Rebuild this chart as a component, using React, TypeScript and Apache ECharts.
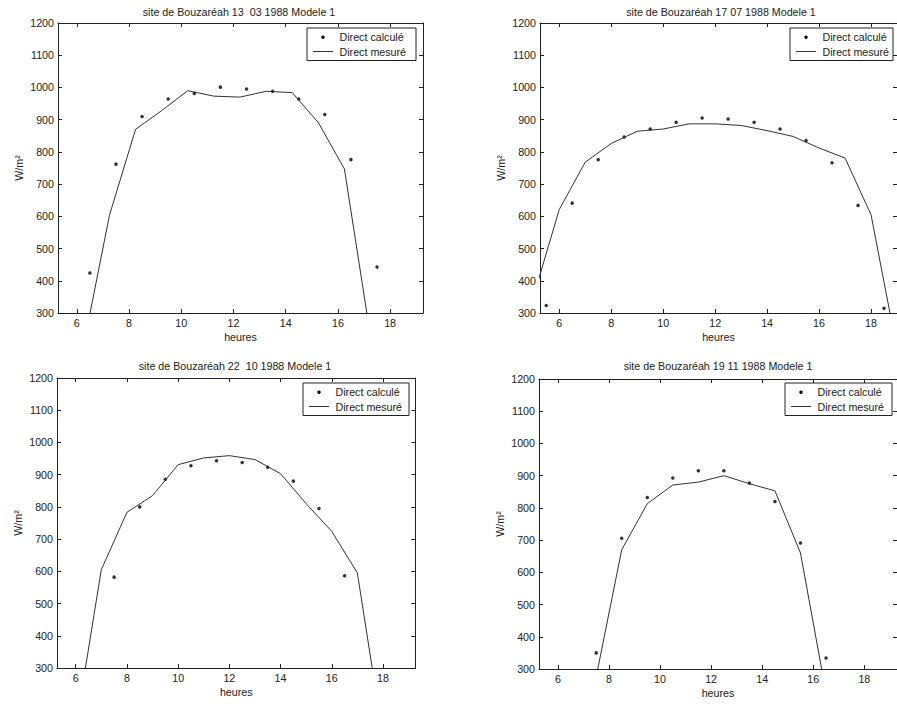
import React, { useEffect, useRef } from "react";
import * as echarts from "echarts";

// ---------- data ----------
const xTickValues = [6, 8, 10, 12, 14, 16, 18];
const nameCalc = "Direct calculé";
const nameMeas = "Direct mesuré";
const xAxisName = "heures";
const yAxisName = "W/m²";

const titles = [
  "site de Bouzaréah 13  03 1988 Modele 1",
  "site de Bouzaréah 17 07 1988 Modele 1",
  "site de Bouzaréah 22  10 1988 Modele 1",
  "site de Bouzaréah 19 11 1988 Modele 1",
];

// 13 03 1988
const hoursMeas1 = [6.25, 7.25, 8.25, 9.25, 10.25, 11.25, 12.25, 13.25, 14.25, 15.25, 16.25, 17.25];
const valuesMeas1 = [195, 603, 870, 928, 990, 973, 970, 988, 984, 891, 747, 227];
const hoursCalc1 = [6.5, 7.5, 8.5, 9.5, 10.5, 11.5, 12.5, 13.5, 14.5, 15.5, 16.5, 17.5];
const valuesCalc1 = [424, 762, 910, 964, 981, 1001, 995, 988, 964, 916, 776, 443];

// 17 07 1988
const hoursMeas2 = [5, 6, 7, 8, 9, 10, 11, 12, 13, 14, 15, 16, 17, 18, 19];
const valuesMeas2 = [348, 621, 768, 826, 864, 871, 887, 887, 882, 866, 848, 812, 781, 605, 187];
const hoursCalc2 = [5.5, 6.5, 7.5, 8.5, 9.5, 10.5, 11.5, 12.5, 13.5, 14.5, 15.5, 16.5, 17.5, 18.5];
const valuesCalc2 = [323, 641, 776, 846, 871, 892, 905, 902, 892, 871, 835, 766, 634, 315];

// 22 10 1988
const hoursMeas3 = [6, 7, 8, 9, 10, 11, 12, 13, 14, 15, 16, 17, 18];
const valuesMeas3 = [113, 605, 783, 835, 931, 952, 959, 947, 903, 810, 724, 595, 86];
const hoursCalc3 = [7.5, 8.5, 9.5, 10.5, 11.5, 12.5, 13.5, 14.5, 15.5, 16.5];
const valuesCalc3 = [582, 800, 886, 928, 943, 938, 923, 880, 795, 586];

// 19 11 1988
const hoursMeas4 = [7.5, 8.5, 9.5, 10.5, 11.5, 12.5, 13.5, 14.5, 15.5, 16.5];
const valuesMeas4 = [276, 670, 813, 871, 880, 900, 875, 853, 660, 226];
const hoursCalc4 = [7.5, 8.5, 9.5, 10.5, 11.5, 12.5, 13.5, 14.5, 15.5, 16.5];
const valuesCalc4 = [350, 706, 832, 893, 915, 915, 877, 820, 691, 334];

const panelsData = [
  { hm: hoursMeas1, vm: valuesMeas1, hc: hoursCalc1, vc: valuesCalc1 },
  { hm: hoursMeas2, vm: valuesMeas2, hc: hoursCalc2, vc: valuesCalc2 },
  { hm: hoursMeas3, vm: valuesMeas3, hc: hoursCalc3, vc: valuesCalc3 },
  { hm: hoursMeas4, vm: valuesMeas4, hc: hoursCalc4, vc: valuesCalc4 },
];

// ---------- layout ----------
const layouts = [
  { left: 58, top: 23, width: 365, height: 290, xMin: 5.28, xMax: 19.26, titleX: 239, titleY: 12, legX: 307, legY: 28, legW: 109 },
  { left: 540, top: 23, width: 359, height: 290, xMin: 5.26, xMax: 19.0, titleX: 721, titleY: 12, legX: 790, legY: 28, legW: 103 },
  { left: 57, top: 378, width: 358.5, height: 290, xMin: 5.27, xMax: 19.27, titleX: 235, titleY: 366, legX: 303, legY: 383, legW: 106 },
  { left: 539, top: 379, width: 360, height: 290, xMin: 5.26, xMax: 19.28, titleX: 718, titleY: 366, legX: 785, legY: 383, legW: 107 },
];

const FONT_FAMILY = '"Liberation Sans", Arial, Helvetica, sans-serif';
const FS = 10.7;
const INK = "#222";

function zip(a: number[], b: number[]) {
  return a.map((v, i) => [v, b[i]]);
}

const plain = (v: number) => String(v);

function buildOption() {
  const grid: any[] = [];
  const xAxis: any[] = [];
  const yAxis: any[] = [];
  const series: any[] = [];
  const graphic: any[] = [];

  layouts.forEach((L, i) => {
    const d = panelsData[i];
    grid.push({ left: L.left, top: L.top, width: L.width, height: L.height, containLabel: false });

    const axisLine = { show: true, onZero: false, lineStyle: { color: INK, width: 1 } };
    const tick = { show: true, inside: true, length: 4, lineStyle: { color: INK, width: 1 } };
    const labelStyle = { color: INK, fontSize: FS, fontFamily: FONT_FAMILY };

    xAxis.push({
      type: "value",
      gridIndex: i,
      position: "bottom",
      min: L.xMin,
      max: L.xMax,
      axisLine,
      axisTick: { ...tick, customValues: xTickValues },
      axisLabel: { ...labelStyle, margin: 4, customValues: xTickValues, formatter: plain },
      splitLine: { show: false },
      name: xAxisName,
      nameLocation: "middle",
      nameGap: 18,
      nameTextStyle: { ...labelStyle },
    });
    xAxis.push({
      type: "value",
      gridIndex: i,
      position: "top",
      min: L.xMin,
      max: L.xMax,
      axisLine,
      axisTick: { ...tick, customValues: xTickValues },
      axisLabel: { show: false, customValues: xTickValues },
      splitLine: { show: false },
    });
    yAxis.push({
      type: "value",
      gridIndex: i,
      position: "left",
      min: 300,
      max: 1200,
      interval: 100,
      axisLine,
      axisTick: tick,
      axisLabel: { ...labelStyle, margin: 4, formatter: plain },
      splitLine: { show: false },
      name: yAxisName,
      nameLocation: "middle",
      nameGap: 34,
      nameTextStyle: { ...labelStyle },
    });
    yAxis.push({
      type: "value",
      gridIndex: i,
      position: "right",
      min: 300,
      max: 1200,
      interval: 100,
      axisLine,
      axisTick: tick,
      axisLabel: { show: false },
      splitLine: { show: false },
    });

    series.push({
      type: "line",
      name: nameMeas,
      xAxisIndex: 2 * i,
      yAxisIndex: 2 * i,
      data: zip(d.hm, d.vm),
      symbol: "none",
      showSymbol: false,
      clip: true,
      lineStyle: { color: "#333", width: 1 },
      itemStyle: { color: "#333" },
    });
    series.push({
      type: "scatter",
      name: nameCalc,
      xAxisIndex: 2 * i,
      yAxisIndex: 2 * i,
      data: zip(d.hc, d.vc),
      symbol: "circle",
      symbolSize: 3.5,
      itemStyle: { color: "#000" },
    });

    const font = `${FS}px ${FONT_FAMILY}`;
    graphic.push({
      type: "text",
      x: L.titleX,
      y: L.titleY,
      z: 100,
      style: {
        text: titles[i],
        font,
        fill: INK,
        align: "center",
        textAlign: "center",
        verticalAlign: "middle",
        textVerticalAlign: "middle",
      },
    });
    const row1 = L.legY + 9.3;
    const row2 = L.legY + 23.5;
    graphic.push({
      type: "group",
      z: 100,
      children: [
        {
          type: "rect",
          shape: { x: L.legX, y: L.legY, width: L.legW, height: 32.5 },
          style: { fill: "#fff", stroke: INK, lineWidth: 1 },
          z: 100,
        },
        {
          type: "circle",
          shape: { cx: L.legX + 16, cy: row1, r: 1.7 },
          style: { fill: "#000" },
          z: 101,
        },
        {
          type: "line",
          shape: { x1: L.legX + 6, y1: row2, x2: L.legX + 26, y2: row2 },
          style: { stroke: "#333", lineWidth: 1 },
          z: 101,
        },
        {
          type: "text",
          x: L.legX + 32.5,
          y: row1,
          z: 101,
          style: { text: nameCalc, font, fill: INK, align: "left", textAlign: "left", verticalAlign: "middle", textVerticalAlign: "middle" },
        },
        {
          type: "text",
          x: L.legX + 32.5,
          y: row2,
          z: 101,
          style: { text: nameMeas, font, fill: INK, align: "left", textAlign: "left", verticalAlign: "middle", textVerticalAlign: "middle" },
        },
      ],
    });
  });

  return {
    animation: false,
    backgroundColor: "#fff",
    grid,
    xAxis,
    yAxis,
    series,
    graphic: { elements: graphic },
  };
}

export default function App() {
  const ref = useRef<HTMLDivElement>(null);
  useEffect(() => {
    if (!ref.current) return;
    const chart = echarts.init(ref.current, undefined, { renderer: "svg" });
    chart.setOption(buildOption() as any);
    return () => chart.dispose();
  }, []);
  return (
    <div
      ref={ref}
      style={{ position: "fixed", left: 0, top: 0, width: 897, height: 704, background: "#fff" }}
    />
  );
}
